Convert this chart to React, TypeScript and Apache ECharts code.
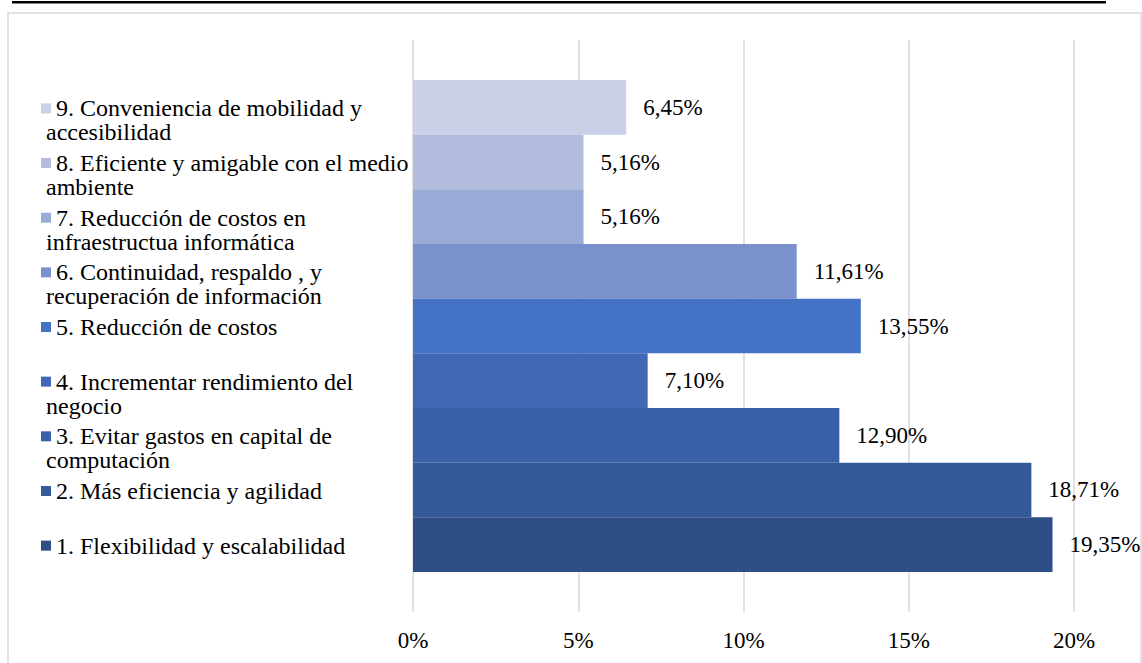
import React, { useEffect, useRef } from 'react';
import * as echarts from 'echarts';

// Series (1 = bottom bar, 9 = top bar)
const categories = [
  '1. Flexibilidad y escalabilidad',
  '2. Más eficiencia y agilidad',
  '3. Evitar gastos en capital de computación',
  '4. Incrementar rendimiento del negocio',
  '5. Reducción de costos',
  '6. Continuidad, respaldo , y recuperación de información',
  '7. Reducción de costos en infraestructua informática',
  '8. Eficiente y amigable con el medio ambiente',
  '9. Conveniencia de mobilidad y accesibilidad',
];

// Legend text as wrapped in the reference
const legendLines: string[][] = [
  ['1. Flexibilidad y escalabilidad'],
  ['2. Más eficiencia y agilidad'],
  ['3. Evitar gastos en capital de', 'computación'],
  ['4. Incrementar rendimiento del', 'negocio'],
  ['5. Reducción de costos'],
  ['6. Continuidad, respaldo , y', 'recuperación de información'],
  ['7. Reducción de costos en', 'infraestructua informática'],
  ['8. Eficiente y amigable con el medio', 'ambiente'],
  ['9. Conveniencia de mobilidad y', 'accesibilidad'],
];

const values = [19.35, 18.71, 12.9, 7.1, 13.55, 11.61, 5.16, 5.16, 6.45];

const colors = [
  '#2E4E88',
  '#345A9A',
  '#3A61A7',
  '#4068B4',
  '#4472C4',
  '#7A91CE',
  '#99ABD6',
  '#B2BDDE',
  '#CBD0E9',
];

const axisMin = 0;
const axisMax = 20;
const axisInterval = 5;

const FONT = 'Liberation Serif';

const fmtPct = (v: number) => v.toFixed(2).replace('.', ',') + '%';

export default function App() {
  const ref = useRef<HTMLDivElement>(null);

  useEffect(() => {
    if (!ref.current) return;
    const chart = echarts.init(ref.current, undefined, { renderer: 'svg' });

    const H = 663;
    const gridTop = 40;
    const gridBottom = 51;
    const gridLeft = 413;
    const gridRight = 68;
    const catGap = 0.14;
    const gridH = H - gridTop - gridBottom;
    const halfGap = (gridH * catGap) / 2;
    const barW = (gridH * (1 - catGap)) / categories.length;
    const lineH = 24;

    const legends = categories.map((name, i) => {
      const j = categories.length - 1 - i;
      const yc = gridTop + halfGap + (j + 0.5) * barW + 1;
      const lines = legendLines[i];
      const text =
        '{sq|}{gap|}' +
        lines[0] +
        (lines.length > 1 ? '\n' + lines.slice(1).map((l) => '{ind|}' + l).join('\n') : '');
      return {
        show: true,
        orient: 'vertical',
        left: 36,
        top: yc - lineH / 2,
        padding: 0,
        itemWidth: 0,
        itemHeight: 0,
        itemGap: 0,
        selectedMode: false,
        itemStyle: { opacity: 0 },
        data: [name],
        formatter: () => text,
        textStyle: {
          fontFamily: FONT,
          fontSize: 24,
          lineHeight: lineH,
          color: '#000',
          rich: {
            sq: { width: 10, height: 10, backgroundColor: colors[i] },
            gap: { width: 5 },
            ind: { width: 5 },
          },
        },
      };
    });

    // series listed from top bar (9) to bottom bar (1)
    const order = categories.map((_, i) => categories.length - 1 - i);
    const series = order.map((i) => ({
      type: 'bar',
      name: categories[i],
      data: [values[i]],
      itemStyle: { color: colors[i] },
      barGap: '0%',
      barCategoryGap: catGap * 100 + '%',
      label: {
        show: true,
        position: 'right',
        distance: 17,
        formatter: (p: any) => fmtPct(p.value),
        fontFamily: FONT,
        fontSize: 23,
        color: '#000',
      },
    }));

    chart.setOption({
      animation: false,
      backgroundColor: '#fff',
      legend: legends,
      grid: {
        left: gridLeft,
        right: gridRight,
        top: gridTop,
        bottom: gridBottom,
        containLabel: false,
      },
      xAxis: {
        type: 'value',
        min: axisMin,
        max: axisMax,
        interval: axisInterval,
        axisLine: { show: false },
        axisTick: { show: false },
        splitLine: { show: true, lineStyle: { color: '#D9D9D9', width: 1.5 } },
        axisLabel: {
          formatter: (v: number) => v + '%',
          fontFamily: FONT,
          fontSize: 23,
          color: '#000',
          margin: 17,
        },
      },
      yAxis: {
        type: 'category',
        data: ['Beneficios'],
        show: false,
      },
      series,
      graphic: [
        {
          type: 'rect',
          silent: true,
          shape: { x: 8, y: 13, width: 1133, height: 700 },
          style: { fill: 'none', stroke: '#D9D9D9', lineWidth: 1.5 },
        },
        {
          type: 'rect',
          silent: true,
          shape: { x: 12, y: 1, width: 1094, height: 2.5 },
          style: { fill: '#000' },
        },
      ],
    });

    return () => chart.dispose();
  }, []);

  return (
    <div
      ref={ref}
      style={{ position: 'absolute', left: 0, top: 0, width: 1142, height: 663, background: '#fff' }}
    />
  );
}
